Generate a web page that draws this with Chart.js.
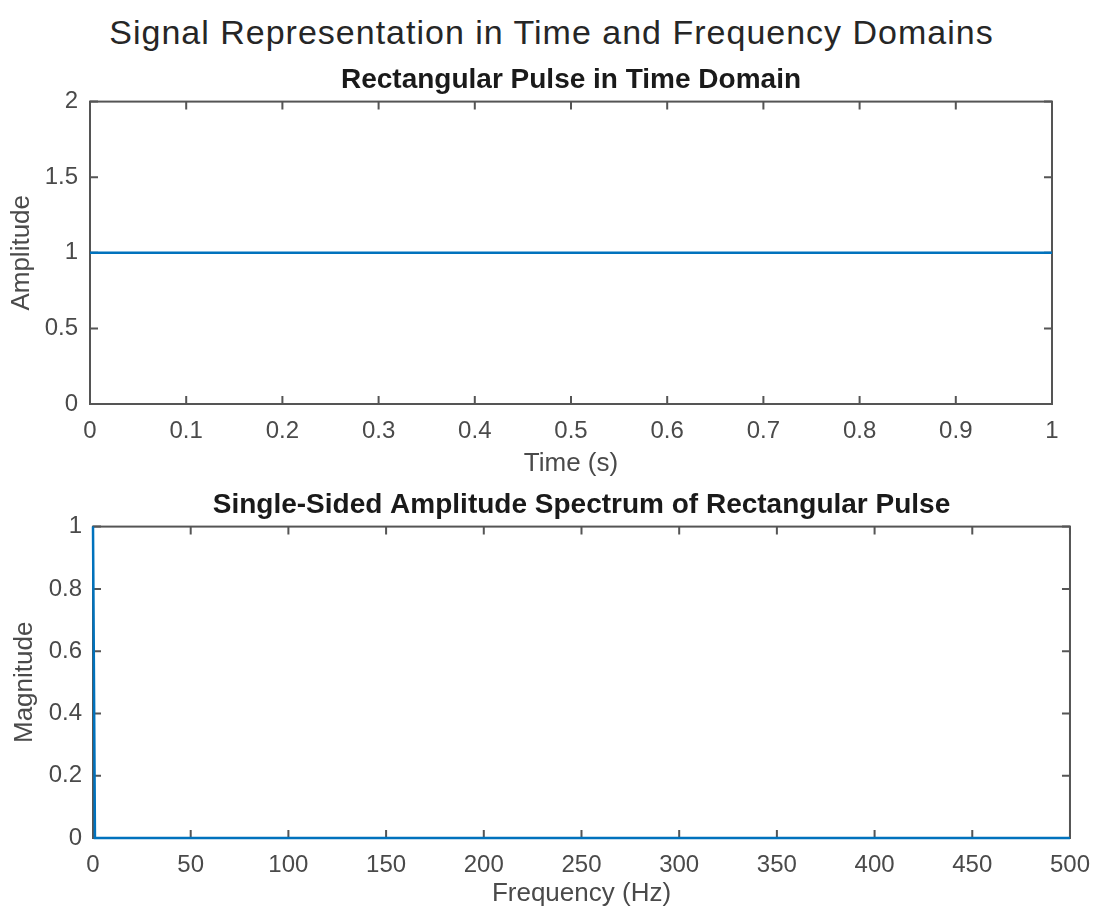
<!DOCTYPE html>
<html>
<head>
<meta charset="utf-8">
<title>Signal Representation in Time and Frequency Domains</title>
<script src="https://cdn.jsdelivr.net/npm/chart.js@4.4.1/dist/chart.umd.min.js"></script>
<style>
  html, body { margin: 0; padding: 0; background: #fff; }
  body { width: 1103px; height: 913px; position: relative; overflow: hidden; }
  #sgtitle {
    position: absolute; left: 0; top: 12px; width: 1103px; text-align: center;
    font-family: "Liberation Sans", Arial, sans-serif; font-size: 34px; line-height: 40px;
    letter-spacing: 1px; color: #262626;
  }
  canvas { position: absolute; left: 0; }
  #timeCanvas { top: 45px; }
  #freqCanvas { top: 480px; }
</style>
</head>
<body>
<div id="sgtitle">Signal Representation in Time and Frequency Domains</div>
<canvas id="timeCanvas" width="1103" height="440"></canvas>
<canvas id="freqCanvas" width="1103" height="433"></canvas>
<script>
// time domain: rectangular pulse
var timeSec = [0, 1];
var amplitude = [1, 1];
var timeTicks = [0, 0.1, 0.2, 0.3, 0.4, 0.5, 0.6, 0.7, 0.8, 0.9, 1];
var ampTicks = [0, 0.5, 1, 1.5, 2];

// single-sided spectrum
var freqHz = [0, 1, 500];
var magnitude = [1, 0, 0];
var freqTicks = [0, 50, 100, 150, 200, 250, 300, 350, 400, 450, 500];
var magTicks = [0, 0.2, 0.4, 0.6, 0.8, 1];

var FONT = '"Liberation Sans", Arial, sans-serif';
var LABEL_GREY = '#4a4a4a';
var AXIS_GREY = '#555555';
var LINE_BLUE = '#0072BD';

function toPoints(xs, ys) {
    return xs.map(function (x, i) { return { x: x, y: ys[i] }; });
}

function fixedTicks(values) {
    return function (scale) {
        scale.ticks = values.map(function (v) { return { value: v }; });
    };
}

// matlab prints 1 not 1.0
function plainNumber(value) {
    return String(+Number(value).toFixed(3));
}

// matlab style box with inward ticks on all four sides
var boxPlugin = {
    id: 'matlabBox',
    beforeDatasetsDraw: function (chart) {
        var ctx = chart.ctx;
        var a = chart.chartArea;
        var xs = chart.scales.x;
        var ys = chart.scales.y;
        var len = 8;
        ctx.save();
        ctx.strokeStyle = AXIS_GREY;
        ctx.lineWidth = 2;
        ctx.strokeRect(a.left, a.top, a.right - a.left, a.bottom - a.top);
        ctx.beginPath();
        xs.ticks.forEach(function (t) {
            var px = xs.getPixelForValue(t.value);
            ctx.moveTo(px, a.bottom);
            ctx.lineTo(px, a.bottom - len);
            ctx.moveTo(px, a.top);
            ctx.lineTo(px, a.top + len);
        });
        ys.ticks.forEach(function (t) {
            var py = ys.getPixelForValue(t.value);
            ctx.moveTo(a.left, py);
            ctx.lineTo(a.left + len, py);
            ctx.moveTo(a.right, py);
            ctx.lineTo(a.right - len, py);
        });
        ctx.stroke();
        ctx.restore();
    }
};

function makeChart(canvasId, opts) {
    return new Chart(document.getElementById(canvasId), {
        type: 'line',
        data: {
            datasets: [{
                data: toPoints(opts.xs, opts.ys),
                borderColor: LINE_BLUE,
                borderWidth: 2.5,
                pointRadius: 0,
                tension: 0,
                clip: false
            }]
        },
        options: {
            responsive: false,
            animation: false,
            devicePixelRatio: 1,
            layout: { padding: { left: 0, right: opts.rightPad, top: 0, bottom: 0 } },
            plugins: {
                legend: { display: false },
                tooltip: { enabled: false },
                title: {
                    display: true,
                    text: opts.title,
                    fullSize: false,
                    color: '#1a1a1a',
                    font: { family: FONT, size: 28, weight: 'bold', lineHeight: 1.2 },
                    padding: opts.titlePad
                }
            },
            scales: {
                x: {
                    type: 'linear',
                    min: opts.xTicks[0],
                    max: opts.xTicks[opts.xTicks.length - 1],
                    afterBuildTicks: fixedTicks(opts.xTicks),
                    afterFit: function (s) { s.height = opts.xHeight; },
                    grid: { display: false, drawTicks: false },
                    border: { display: false },
                    ticks: {
                        color: LABEL_GREY,
                        font: { family: FONT, size: 24 },
                        padding: opts.xTickPad,
                        maxRotation: 0,
                        autoSkip: false,
                        callback: plainNumber
                    },
                    title: {
                        display: true,
                        text: opts.xLabel,
                        color: LABEL_GREY,
                        font: { family: FONT, size: 26, lineHeight: 1.2 },
                        padding: { top: 0, bottom: opts.xTitlePad }
                    }
                },
                y: {
                    type: 'linear',
                    min: opts.yTicks[0],
                    max: opts.yTicks[opts.yTicks.length - 1],
                    afterBuildTicks: fixedTicks(opts.yTicks),
                    afterFit: function (s) { s.width = opts.yWidth; },
                    grid: { display: false, drawTicks: false },
                    border: { display: false },
                    ticks: {
                        color: LABEL_GREY,
                        font: { family: FONT, size: 24 },
                        padding: opts.yTickPad,
                        autoSkip: false,
                        callback: plainNumber
                    },
                    title: {
                        display: true,
                        text: opts.yLabel,
                        color: LABEL_GREY,
                        font: { family: FONT, size: 26, lineHeight: 1.2 },
                        padding: { top: opts.yTitlePad, bottom: 0 }
                    }
                }
            }
        },
        plugins: [boxPlugin]
    });
}

makeChart('timeCanvas', {
    xs: timeSec, ys: amplitude,
    xTicks: timeTicks, yTicks: ampTicks,
    title: 'Rectangular Pulse in Time Domain',
    xLabel: 'Time (s)', yLabel: 'Amplitude',
    titlePad: { top: 18, bottom: 5 },
    rightPad: 51, yWidth: 90, xHeight: 81,
    xTickPad: 13, yTickPad: 12, xTitlePad: 6, yTitlePad: 6
});

makeChart('freqCanvas', {
    xs: freqHz, ys: magnitude,
    xTicks: freqTicks, yTicks: magTicks,
    title: 'Single-Sided Amplitude Spectrum of Rectangular Pulse',
    xLabel: 'Frequency (Hz)', yLabel: 'Magnitude',
    titlePad: { top: 8, bottom: 5 },
    rightPad: 26, yWidth: 93, xHeight: 75,
    xTickPad: 13, yTickPad: 11, xTitlePad: 4, yTitlePad: 9
});
</script>
</body>
</html>
